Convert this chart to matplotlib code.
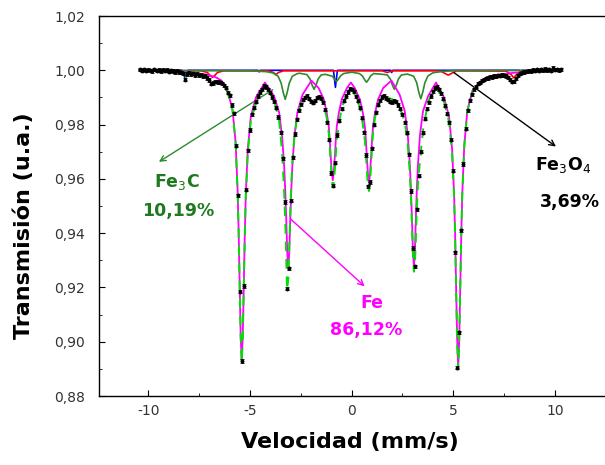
import matplotlib
matplotlib.use("Agg")
import matplotlib.pyplot as plt
from matplotlib.ticker import MultipleLocator, FuncFormatter

plt.rcParams['font.family'] = ['DejaVu Sans']
plt.rcParams['axes.unicode_minus'] = False

# measured spectrum (velocity mm/s, relative transmission)
vel = [-10.4, -10.3, -10.2, -10.1, -10.0, -9.9, -9.8, -9.7, -9.6, -9.5, -9.4, -9.3, -9.2, -9.1,
       -9.0, -8.9, -8.8, -8.7, -8.6, -8.5, -8.4, -8.3, -8.2, -8.1, -8.0, -7.9, -7.8, -7.7,
       -7.6, -7.5, -7.4, -7.3, -7.2, -7.1, -7.0, -6.9, -6.8, -6.7, -6.6, -6.5, -6.4, -6.3,
       -6.2, -6.1, -6.0, -5.9, -5.8, -5.7, -5.6, -5.5, -5.4, -5.3, -5.2, -5.1, -5.0, -4.9,
       -4.8, -4.7, -4.6, -4.5, -4.4, -4.3, -4.2, -4.1, -4.0, -3.9, -3.8, -3.7, -3.6, -3.5,
       -3.4, -3.3, -3.2, -3.1, -3.0, -2.9, -2.8, -2.7, -2.6, -2.5, -2.4, -2.3, -2.2, -2.1,
       -2.0, -1.9, -1.8, -1.7, -1.6, -1.5, -1.4, -1.3, -1.2, -1.1, -1.0, -0.9, -0.8, -0.7,
       -0.6, -0.5, -0.4, -0.3, -0.2, -0.1, 0.0, 0.1, 0.2, 0.3, 0.4, 0.5, 0.6, 0.7,
       0.8, 0.9, 1.0, 1.1, 1.2, 1.3, 1.4, 1.5, 1.6, 1.7, 1.8, 1.9, 2.0, 2.1,
       2.2, 2.3, 2.4, 2.5, 2.6, 2.7, 2.8, 2.9, 3.0, 3.1, 3.2, 3.3, 3.4, 3.5,
       3.6, 3.7, 3.8, 3.9, 4.0, 4.1, 4.2, 4.3, 4.4, 4.5, 4.6, 4.7, 4.8, 4.9,
       5.0, 5.1, 5.2, 5.3, 5.4, 5.5, 5.6, 5.7, 5.8, 5.9, 6.0, 6.1, 6.2, 6.3,
       6.4, 6.5, 6.6, 6.7, 6.8, 6.9, 7.0, 7.1, 7.2, 7.3, 7.4, 7.5, 7.6, 7.7,
       7.8, 7.9, 8.0, 8.1, 8.2, 8.3, 8.4, 8.5, 8.6, 8.7, 8.8, 8.9, 9.0, 9.1,
       9.2, 9.3, 9.4, 9.5, 9.6, 9.7, 9.8, 9.9, 10.0, 10.1, 10.2, 10.3]
trans = [1.0004, 0.9999, 1.0003, 0.9998, 1.0002, 1.0000, 0.9996, 1.0003, 0.9999, 1.0001, 0.9997, 1.0002, 0.9998, 1.0001,
         0.9995, 1.0000, 0.9997, 0.9994, 0.9999, 0.9994, 0.9992, 0.9989, 0.9966, 0.9986, 0.9991, 0.9985, 0.9989, 0.9983,
         0.9987, 0.9982, 0.9984, 0.9978, 0.9980, 0.9972, 0.9964, 0.9950, 0.9953, 0.9958, 0.9957, 0.9956, 0.9952, 0.9945,
         0.9936, 0.9918, 0.9908, 0.9872, 0.9842, 0.9722, 0.9540, 0.9185, 0.8929, 0.9205, 0.9560, 0.9705, 0.9780, 0.9838,
         0.9862, 0.9885, 0.9905, 0.9920, 0.9930, 0.9942, 0.9938, 0.9930, 0.9918, 0.9902, 0.9886, 0.9862, 0.9828, 0.9772,
         0.9676, 0.9515, 0.9195, 0.9270, 0.9520, 0.9680, 0.9765, 0.9820, 0.9852, 0.9875, 0.9892, 0.9901, 0.9906, 0.9896,
         0.9886, 0.9880, 0.9888, 0.9899, 0.9903, 0.9897, 0.9882, 0.9855, 0.9808, 0.9745, 0.9622, 0.9575, 0.9660, 0.9762,
         0.9815, 0.9858, 0.9888, 0.9905, 0.9920, 0.9932, 0.9930, 0.9922, 0.9904, 0.9888, 0.9862, 0.9825, 0.9772, 0.9688,
         0.9572, 0.9588, 0.9712, 0.9800, 0.9845, 0.9873, 0.9890, 0.9902, 0.9906, 0.9898, 0.9892, 0.9885, 0.9882, 0.9888,
         0.9884, 0.9872, 0.9858, 0.9838, 0.9808, 0.9770, 0.9690, 0.9555, 0.9345, 0.9278, 0.9488, 0.9612, 0.9700, 0.9770,
         0.9822, 0.9858, 0.9882, 0.9905, 0.9922, 0.9935, 0.9938, 0.9930, 0.9915, 0.9895, 0.9870, 0.9840, 0.9808, 0.9745,
         0.9630, 0.9330, 0.8905, 0.9035, 0.9410, 0.9655, 0.9785, 0.9852, 0.9890, 0.9912, 0.9930, 0.9940, 0.9950, 0.9955,
         0.9962, 0.9965, 0.9970, 0.9972, 0.9976, 0.9975, 0.9979, 0.9978, 0.9982, 0.9980, 0.9983, 0.9981, 0.9979, 0.9974,
         0.9966, 0.9958, 0.9960, 0.9970, 0.9982, 0.9988, 0.9991, 0.9994, 0.9996, 0.9999, 0.9996, 1.0001, 0.9998, 1.0003,
         0.9999, 1.0004, 1.0000, 1.0005, 1.0001, 1.0003, 0.9999, 1.0008, 1.0002, 1.0004, 1.0000, 1.0003]

# alpha-Fe sextet (magenta)
fe_v = [-10.45, -9.0, -8.0, -7.2, -6.7, -6.4, -6.11, -5.86, -5.71, -5.61, -5.56, -5.51, -5.46, -5.41,
        -5.36, -5.31, -5.26, -5.21, -5.11, -4.96, -4.71, -4.27, -3.82, -3.57, -3.42, -3.32, -3.27, -3.22,
        -3.17, -3.12, -3.07, -3.02, -2.97, -2.92, -2.82, -2.67, -2.42, -1.98, -1.63, -1.38, -1.23, -1.13,
        -1.08, -1.03, -0.98, -0.93, -0.88, -0.83, -0.78, -0.73, -0.63, -0.48, -0.23, -0.04, 0.15, 0.40,
        0.55, 0.65, 0.70, 0.75, 0.80, 0.85, 0.90, 0.95, 1.00, 1.05, 1.15, 1.30, 1.55, 1.96,
        2.36, 2.61, 2.76, 2.86, 2.91, 2.96, 3.01, 3.06, 3.11, 3.16, 3.21, 3.26, 3.36, 3.51,
        3.76, 4.15, 4.54, 4.79, 4.94, 5.04, 5.09, 5.14, 5.19, 5.24, 5.29, 5.34, 5.39, 5.44,
        5.54, 5.69, 5.94, 6.4, 7.0, 8.0, 9.0, 10.33]
fe_t = [0.9998, 0.9996, 0.9992, 0.9985, 0.9975, 0.9962, 0.9925, 0.9855, 0.9735, 0.9555, 0.9405, 0.9210, 0.9020, 0.8926,
        0.9015, 0.9195, 0.9390, 0.9540, 0.9710, 0.9830, 0.9900, 0.9955, 0.9905, 0.9845, 0.9755, 0.9645, 0.9560, 0.9455,
        0.9330, 0.9265, 0.9330, 0.9455, 0.9560, 0.9645, 0.9755, 0.9845, 0.9910, 0.9962, 0.9935, 0.9895, 0.9845, 0.9795,
        0.9745, 0.9680, 0.9625, 0.9595, 0.9625, 0.9680, 0.9745, 0.9795, 0.9845, 0.9895, 0.9935, 0.9955, 0.9935, 0.9893,
        0.9843, 0.9792, 0.9742, 0.9675, 0.9617, 0.9585, 0.9617, 0.9675, 0.9742, 0.9792, 0.9843, 0.9893, 0.9935, 0.9962,
        0.9910, 0.9850, 0.9762, 0.9652, 0.9570, 0.9465, 0.9340, 0.9276, 0.9340, 0.9465, 0.9570, 0.9652, 0.9762, 0.9850,
        0.9905, 0.9955, 0.9900, 0.9830, 0.9710, 0.9540, 0.9390, 0.9190, 0.9005, 0.8902, 0.9005, 0.9195, 0.9390, 0.9545,
        0.9725, 0.9852, 0.9925, 0.9965, 0.9982, 0.9991, 0.9995, 0.9998]

# total fit (light green, dashed)
tot_v = [-10.45, -9.0, -8.3, -8.2, -8.1, -7.5, -7.1, -6.85, -6.6, -6.4, -6.11, -5.86, -5.71, -5.61,
         -5.56, -5.51, -5.46, -5.41, -5.36, -5.31, -5.26, -5.21, -5.11, -4.96, -4.71, -4.27, -3.82, -3.57,
         -3.42, -3.32, -3.25, -3.18, -3.12, -3.07, -3.02, -2.97, -2.92, -2.82, -2.67, -2.42, -2.2, -2.05,
         -1.85, -1.65, -1.5, -1.38, -1.23, -1.13, -1.08, -1.03, -0.98, -0.93, -0.88, -0.83, -0.78, -0.73,
         -0.63, -0.48, -0.23, -0.04, 0.15, 0.40, 0.55, 0.65, 0.70, 0.75, 0.80, 0.85, 0.90, 0.95,
         1.00, 1.05, 1.15, 1.30, 1.55, 1.75, 2.1, 2.36, 2.61, 2.76, 2.86, 2.91, 2.96, 3.01,
         3.06, 3.11, 3.16, 3.21, 3.26, 3.36, 3.51, 3.76, 4.15, 4.54, 4.79, 4.94, 5.04, 5.09,
         5.14, 5.19, 5.24, 5.29, 5.34, 5.39, 5.44, 5.54, 5.69, 5.94, 6.4, 7.0, 7.6, 7.85,
         7.97, 8.1, 8.35, 9.0, 10.33]
tot_t = [0.9998, 0.9995, 0.9990, 0.9965, 0.9988, 0.9985, 0.9975, 0.9950, 0.9960, 0.9955, 0.9920, 0.9850, 0.9730, 0.9550,
         0.9400, 0.9205, 0.9015, 0.8922, 0.9010, 0.9188, 0.9380, 0.9530, 0.9695, 0.9815, 0.9880, 0.9950, 0.9888, 0.9815,
         0.9695, 0.9548, 0.9400, 0.9190, 0.9230, 0.9350, 0.9475, 0.9580, 0.9660, 0.9755, 0.9835, 0.9890, 0.9905, 0.9890,
         0.9885, 0.9900, 0.9900, 0.9875, 0.9825, 0.9770, 0.9720, 0.9660, 0.9600, 0.9570, 0.9585, 0.9630, 0.9690, 0.9745,
         0.9800, 0.9865, 0.9915, 0.9935, 0.9910, 0.9865, 0.9800, 0.9740, 0.9690, 0.9625, 0.9575, 0.9555, 0.9585, 0.9645,
         0.9715, 0.9770, 0.9825, 0.9875, 0.9905, 0.9900, 0.9890, 0.9865, 0.9810, 0.9725, 0.9620, 0.9540, 0.9440, 0.9325,
         0.9258, 0.9285, 0.9380, 0.9505, 0.9580, 0.9668, 0.9780, 0.9885, 0.9940, 0.9885, 0.9810, 0.9695, 0.9530, 0.9380,
         0.9180, 0.9000, 0.8898, 0.9000, 0.9190, 0.9385, 0.9540, 0.9720, 0.9850, 0.9920, 0.9960, 0.9978, 0.9980, 0.9968,
         0.9955, 0.9968, 0.9988, 0.9994, 0.9998]

# Fe3C sextet (dark green)
c_v = [-10.45, -5.0, -4.2, -3.87, -3.62, -3.47, -3.37, -3.27, -3.17, -3.07, -2.92, -2.67, -2.55, -2.2,
       -2.05, -1.95, -1.85, -1.75, -1.65, -1.5, -1.3, -0.95, -0.85, -0.75, -0.65, -0.55, -0.4, 0.0,
       0.38, 0.53, 0.63, 0.73, 0.83, 0.93, 1.08, 1.4, 1.75, 1.9, 2.0, 2.1, 2.2, 2.3,
       2.45, 2.75, 3.05, 3.2, 3.3, 3.4, 3.5, 3.6, 3.75, 4.0, 4.5, 5.2, 10.33]
c_t = [1.0, 0.9998, 0.9995, 0.9990, 0.9978, 0.9953, 0.9919, 0.9893, 0.9919, 0.9953, 0.9978, 0.9988, 0.9989, 0.9984,
       0.9968, 0.9946, 0.9930, 0.9946, 0.9968, 0.9983, 0.9985, 0.9978, 0.9968, 0.9958, 0.9968, 0.9979, 0.9988, 0.9993,
       0.9988, 0.9979, 0.9966, 0.9956, 0.9966, 0.9979, 0.9988, 0.9986, 0.9983, 0.9968, 0.9946, 0.9930, 0.9946, 0.9968,
       0.9983, 0.9986, 0.9978, 0.9954, 0.9920, 0.9895, 0.9920, 0.9954, 0.9979, 0.9991, 0.9996, 0.9999, 1.0]

# Fe3O4 components (red and blue)
r_v = [-10.45, -7.4, -7.1, -6.95, -6.85, -6.75, -6.6, -6.3, -4.1, -3.85, -3.72, -3.6, -3.35, 1.5,
       1.75, 2.0, 4.35, 4.6, 4.75, 4.9, 5.15, 7.6, 7.85, 7.97, 8.1, 8.35, 10.33]
r_t = [1.0, 0.9998, 0.9992, 0.9980, 0.9974, 0.9980, 0.9992, 0.9998, 0.9998, 0.9992, 0.9984, 0.9992, 0.9998, 0.9998,
       0.9992, 0.9998, 0.9998, 0.9988, 0.9982, 0.9988, 0.9998, 0.9997, 0.9984, 0.9972, 0.9984, 0.9997, 1.0]
b_v = [-10.45, -8.35, -8.25, -8.2, -8.15, -8.05, -4.6, -4.55, -4.5, -0.9, -0.85, -0.8, -0.75, -0.7,
       1.92, 1.97, 2.02, 8.25, 8.3, 8.35, 10.33]
b_t = [1.0, 1.0, 0.9985, 0.9968, 0.9985, 1.0, 1.0, 0.9994, 1.0, 1.0, 0.9970, 0.9937, 0.9970, 1.0,
       1.0, 0.9992, 1.0, 1.0, 0.9993, 1.0, 1.0]

fig = plt.figure(figsize=(6.05, 4.65), dpi=100)
ax = fig.add_axes([99 / 605, 69 / 465, 508 / 605, 380 / 465])

ax.plot(b_v, b_t, color='#0000ff', lw=1.2, zorder=2)
ax.plot(r_v, r_t, color='#ff0000', lw=1.2, zorder=3)
ax.plot(c_v, c_t, color='#2e8b2e', lw=1.2, zorder=4)
ax.plot(fe_v, fe_t, color='#ff00ff', lw=1.3, zorder=5)
ax.plot(tot_v, tot_t, color='#00e000', lw=1.4, ls=(0, (5, 4)), zorder=6)
ax.errorbar(vel, trans, yerr=0.0006, fmt='o', ms=1.8, color='black', ecolor='black',
            elinewidth=0.6, capsize=1.5, capthick=0.6, zorder=7)

ax.set_xlim(-12.43, 12.56)
ax.set_ylim(0.88, 1.02)
ax.xaxis.set_major_locator(MultipleLocator(5))
ax.xaxis.set_minor_locator(MultipleLocator(2.5))
ax.yaxis.set_major_locator(MultipleLocator(0.02))
ax.yaxis.set_minor_locator(MultipleLocator(0.01))
ax.yaxis.set_major_formatter(FuncFormatter(lambda v, p: ('%.2f' % v).replace('.', ',')))
ax.xaxis.set_major_formatter(FuncFormatter(lambda v, p: '%d' % round(v)))
ax.tick_params(which='both', direction='in', top=False, right=False, colors='black',
               labelcolor='#333333', labelsize=10)
ax.tick_params(axis='y', which='major', length=4, pad=10)
ax.tick_params(axis='x', which='major', length=4, pad=6)
ax.tick_params(which='minor', length=2.5)
for s in ax.spines.values():
    s.set_linewidth(1.0)

fig.text(0.578, 0.05, 'Velocidad (mm/s)', ha='center', va='center',
         fontsize=16, fontweight='bold')
fig.text(0.04, 0.515, 'Transmisión (u.a.)', ha='center', va='center',
         rotation=90, fontsize=16, fontweight='bold')

# annotations
ax.annotate('', xy=(-9.6, 0.9657), xytext=(-3.77, 0.9934),
            arrowprops=dict(arrowstyle='->', color='#2e8b2e', lw=1.0))
ax.text(-8.6, 0.959, 'Fe$_3$C', color='#1f7a1f', fontsize=12.5, fontweight='bold',
        ha='center', va='center')
ax.text(-8.55, 0.9482, '10,19%', color='#1f7a1f', fontsize=12.5, fontweight='bold',
        ha='center', va='center')

ax.annotate('', xy=(0.74, 0.9197), xytext=(-3.12, 0.946),
            arrowprops=dict(arrowstyle='->', color='#ff00ff', lw=1.0))
ax.text(0.98, 0.9144, 'Fe', color='#ff00ff', fontsize=12.5, fontweight='bold',
        ha='center', va='center')
ax.text(0.69, 0.9043, '86,12%', color='#ff00ff', fontsize=12.5, fontweight='bold',
        ha='center', va='center')

ax.annotate('', xy=(10.16, 0.9713), xytext=(4.92, 0.99975),
            arrowprops=dict(arrowstyle='->', color='black', lw=1.0))
ax.text(10.42, 0.9651, 'Fe$_3$O$_4$', color='black', fontsize=12.5, fontweight='bold',
        ha='center', va='center')
ax.text(10.74, 0.9516, '3,69%', color='black', fontsize=12.5, fontweight='bold',
        ha='center', va='center')

fig.savefig('out.png', dpi=100)
